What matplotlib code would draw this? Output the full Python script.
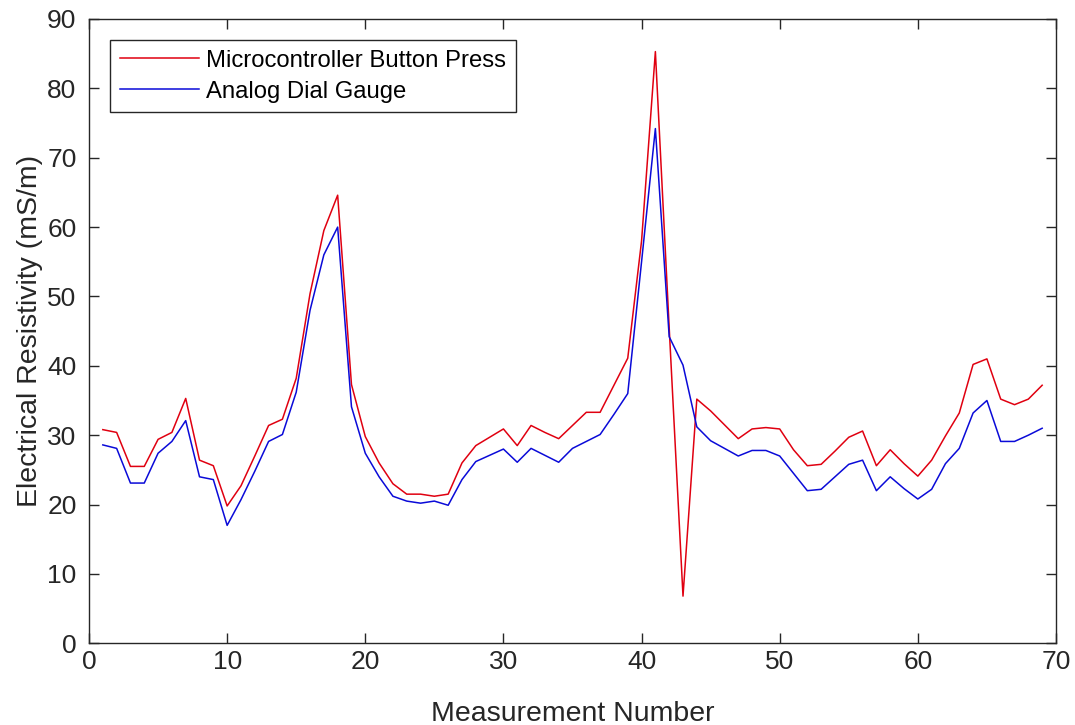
import numpy as np
import matplotlib
matplotlib.use("Agg")
import matplotlib.pyplot as plt

# Measurement numbers 1..69
measurement = list(range(1, 70))

# Microcontroller Button Press readings (mS/m)
button_press = [30.8, 30.4, 25.5, 25.5, 29.4, 30.4, 35.3, 26.4, 25.6, 19.8,
                22.7, 27.0, 31.4, 32.3, 38.2, 50.4, 59.5, 64.6, 37.3, 29.8,
                26.0, 23.0, 21.5, 21.5, 21.2, 21.5, 26.0, 28.5, 29.7, 30.9,
                28.5, 31.4, 30.4, 29.5, 31.4, 33.3, 33.3, 37.2, 41.1, 58.0,
                85.3, 45.5, 6.8, 35.2, 33.5, 31.5, 29.5, 30.9, 31.1, 30.9,
                27.9, 25.6, 25.8, 27.7, 29.7, 30.6, 25.6, 27.9, 25.9, 24.1,
                26.4, 29.9, 33.2, 40.2, 41.0, 35.2, 34.4, 35.2, 37.2]

# Analog Dial Gauge readings (mS/m)
dial_gauge = [28.6, 28.1, 23.1, 23.1, 27.4, 29.1, 32.1, 24.0, 23.6, 17.0,
              20.7, 24.8, 29.1, 30.1, 36.2, 48.0, 56.0, 60.0, 34.1, 27.4,
              24.0, 21.2, 20.5, 20.2, 20.5, 19.9, 23.6, 26.2, 27.1, 28.0,
              26.1, 28.1, 27.1, 26.1, 28.1, 29.1, 30.1, 33.0, 36.0, 55.0,
              74.2, 44.2, 40.1, 31.2, 29.2, 28.1, 27.0, 27.8, 27.8, 27.0,
              24.5, 22.0, 22.2, 24.0, 25.8, 26.4, 22.0, 24.0, 22.3, 20.8,
              22.2, 25.9, 28.1, 33.2, 35.0, 29.1, 29.1, 30.0, 31.0]

x_ticks = list(range(0, 71, 10))
y_ticks = list(range(0, 91, 10))

#MATLAB-ish look
plt.rcParams['font.family'] = ['Liberation Sans', 'DejaVu Sans']
dark = '#262626'

fig = plt.figure(figsize=(10.75, 7.25), dpi=100)
ax = fig.add_axes([0.0828, 0.1127, 0.8995, 0.8611])

ax.plot(measurement, button_press, color='#e00010', lw=1.1,
        label='Microcontroller Button Press')
ax.plot(measurement, dial_gauge, color='#0a0ad8', lw=1.1,
        label='Analog Dial Gauge')

ax.set_xlim(0, 70)
ax.set_ylim(0, 90)
ax.set_xticks(x_ticks)
ax.set_yticks(y_ticks)

ax.tick_params(direction='in', length=7, width=1, colors=dark,
               labelsize=19, top=True, right=True)
ax.tick_params(axis='x', pad=5)
ax.tick_params(axis='y', pad=9)
for s in ax.spines.values():
    s.set_color(dark)
    s.set_linewidth(1.0)

ax.set_xlabel('Measurement Number', fontsize=20.5, color=dark, labelpad=19)
ax.set_ylabel('Electrical Resistivity (mS/m)', fontsize=20.5, color=dark, labelpad=3)

leg = ax.legend(loc='upper left', bbox_to_anchor=(0.0222, 0.966),
                fontsize=17.2, frameon=True, fancybox=False,
                handlelength=3.3, handletextpad=0.3, borderpad=0.4,
                labelspacing=0.38, borderaxespad=0)
leg.get_frame().set_edgecolor(dark)
leg.get_frame().set_linewidth(1.0)
leg.get_frame().set_alpha(1)

fig.savefig('out.png', dpi=100)
